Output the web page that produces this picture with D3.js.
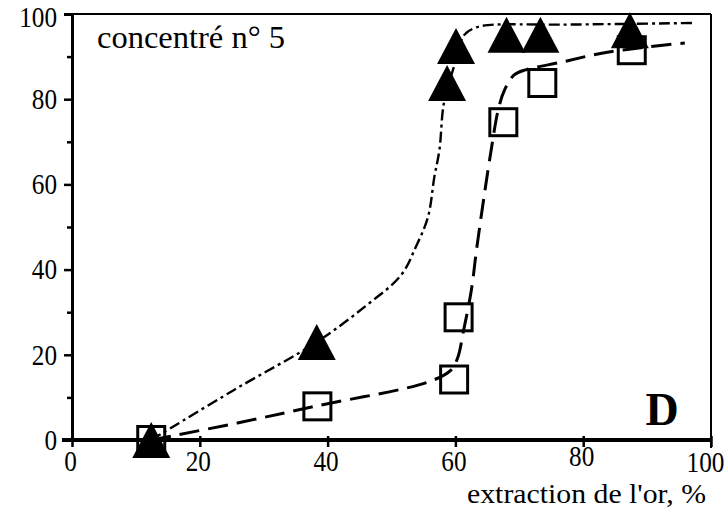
<!DOCTYPE html>
<html><head><meta charset="utf-8">
<script src="https://cdn.jsdelivr.net/npm/d3@7"></script>
<style>html,body{margin:0;padding:0;background:#fff;}svg{display:block;}</style>
</head><body>
<svg id="c" width="727" height="513"></svg>
<script>
// ---- data ----
const xTicks = [0, 20, 40, 60, 80, 100];
const yTicks = [0, 20, 40, 60, 80, 100];
const minorTicks = [10, 30, 50, 70, 90];
// filled triangles
const triX = [12.4, 38.3, 58.7, 60.1, 68.0, 73.3, 87.3];
const triY = [0, 23.0, 83.8, 92.5, 95.1, 95.1, 96.2];
// open squares
const sqX = [12.4, 38.4, 59.8, 60.5, 67.5, 73.6, 87.6];
const sqY = [0, 7.9, 14.2, 28.8, 74.6, 83.8, 91.5];
// fitted curves
const triCurveX = [12.4, 25.3, 38.3, 46.0, 51.5, 53.8, 55.7, 56.7, 57.5, 58.2, 59.7, 61.4, 63.0, 65.1, 76.6, 97.5];
const triCurveY = [0, 11.7, 23.0, 31.5, 38.7, 45.3, 52.3, 61.7, 68.1, 79.1, 87.3, 95.1, 96.7, 97.4, 97.5, 97.9];
const sqCurveX = [12.4, 25.9, 38.3, 55.7, 59.3, 60.4, 61.2, 62.5, 63.3, 64.4, 65.6, 66.7, 67.7, 69.2, 71.0, 76.6, 82.9, 90.3, 95.9];
const sqCurveY = [0, 4.0, 8.0, 13.6, 16.4, 19.5, 25.1, 35.2, 44.6, 56.3, 68.1, 77.5, 82.2, 85.7, 86.9, 88.7, 90.8, 92.3, 93.2];
const panelLabel = "concentré n° 5";
const panelLetter = "D";
const xLabel = "extraction de l'or, %";

// ---- drawing ----
const svg = d3.select("#c");
const L = 72, R = 711, T = 14, B = 440;
const x = d3.scaleLinear().domain([0, 100]).range([L, R]);
const y = d3.scaleLinear().domain([0, 100]).range([B, T]);
const serif = "'Liberation Serif', 'Times New Roman', serif";
const tickFont = 29, tickSX = 0.87;

// frame: thin top and right
svg.append("line").attr("x1", x(0) - 8).attr("x2", x(100)).attr("y1", y(100)).attr("y2", y(100))
  .attr("stroke", "#000").attr("stroke-width", 2);
svg.append("line").attr("x1", x(100)).attr("x2", x(100)).attr("y1", y(100)).attr("y2", y(0) + 8)
  .attr("stroke", "#000").attr("stroke-width", 2);

// y axis
const yAxis = d3.axisLeft(y).tickValues(yTicks).tickSize(8).tickPadding(0).tickFormat(d3.format("d"));
const gy = svg.append("g").attr("transform", `translate(${L},0)`).call(yAxis);
gy.attr("font-size", tickFont).attr("font-family", serif);
gy.select(".domain").attr("stroke-width", 3);
gy.selectAll(".tick line").attr("stroke-width", 2.5);
gy.selectAll("text").attr("fill", "#000").attr("x", 0)
  .attr("transform", `translate(-15,0) scale(${tickSX},1)`);
gy.selectAll(".tick").filter(d => d === 100).select("text").attr("dy", "0.42em");
svg.append("g").attr("transform", `translate(${L},0)`)
  .call(d3.axisLeft(y).tickValues(minorTicks).tickSize(5).tickFormat(""))
  .call(g => g.select(".domain").remove())
  .selectAll(".tick line").attr("stroke-width", 2.5);

// x axis
const xAxis = d3.axisBottom(x).tickValues(xTicks).tickSize(7).tickPadding(0).tickFormat(d3.format("d"));
const gx = svg.append("g").attr("transform", `translate(0,${B})`).call(xAxis);
gx.attr("font-size", tickFont).attr("font-family", serif);
gx.select(".domain").remove();
gx.selectAll(".tick line").attr("stroke-width", 2.5).attr("y1", -4);
const labShift = d => (d === 100 ? -6 : -2);
const labLift = d => (d === 80 ? 26 : d === 100 ? 32 : 31);
gx.selectAll(".tick text").attr("fill", "#000").attr("y", 0).attr("dy", 0)
  .attr("transform", d => `translate(${labShift(d)},${labLift(d)}) scale(${tickSX},1)`);
svg.append("line").attr("x1", x(0) - 10).attr("x2", x(100)).attr("y1", B).attr("y2", B)
  .attr("stroke", "#000").attr("stroke-width", 4);

// curves
const triPts = triCurveX.map((v, i) => [v, triCurveY[i]]);
const sqPts = sqCurveX.map((v, i) => [v, sqCurveY[i]]);
const line = d3.line().x(d => x(d[0])).y(d => y(d[1])).curve(d3.curveCatmullRom.alpha(0.5));
svg.append("path").attr("d", line(sqPts)).attr("fill", "none").attr("stroke", "#000")
  .attr("stroke-width", 3).attr("stroke-dasharray", "20,9");
svg.append("path").attr("d", line(triPts)).attr("fill", "none").attr("stroke", "#000")
  .attr("stroke-width", 2.4).attr("stroke-dasharray", "11,4,3,4");

// squares (open)
const sq = 27;
svg.append("g").selectAll("rect").data(sqX.map((v, i) => [v, sqY[i]])).join("rect")
  .attr("x", d => x(d[0]) - sq / 2).attr("y", d => y(d[1]) - sq / 2)
  .attr("width", sq).attr("height", sq)
  .attr("fill", "none").attr("stroke", "#000").attr("stroke-width", 3);

// triangles (filled)
const tw = 38, th = 36;
svg.append("g").selectAll("path").data(triX.map((v, i) => [v, triY[i]])).join("path")
  .attr("d", d => {
    const cx = x(d[0]), cy = y(d[1]);
    return `M${cx},${cy - th / 2}L${cx + tw / 2},${cy + th / 2}L${cx - tw / 2},${cy + th / 2}Z`;
  })
  .attr("fill", "#000");

// labels
svg.append("text").attr("x", 97).attr("y", 48).attr("font-family", serif).attr("font-size", 32)
  .attr("textLength", 188).attr("lengthAdjust", "spacingAndGlyphs").text(panelLabel);
svg.append("text").attr("x", 662).attr("y", 425).attr("text-anchor", "middle").attr("font-family", serif)
  .attr("font-size", 46).attr("font-weight", "bold").text(panelLetter);
svg.append("text").attr("x", 706).attr("y", 503).attr("text-anchor", "end").attr("font-family", serif)
  .attr("font-size", 27).attr("textLength", 239).attr("lengthAdjust", "spacingAndGlyphs").text(xLabel);
</script>
</body></html>
